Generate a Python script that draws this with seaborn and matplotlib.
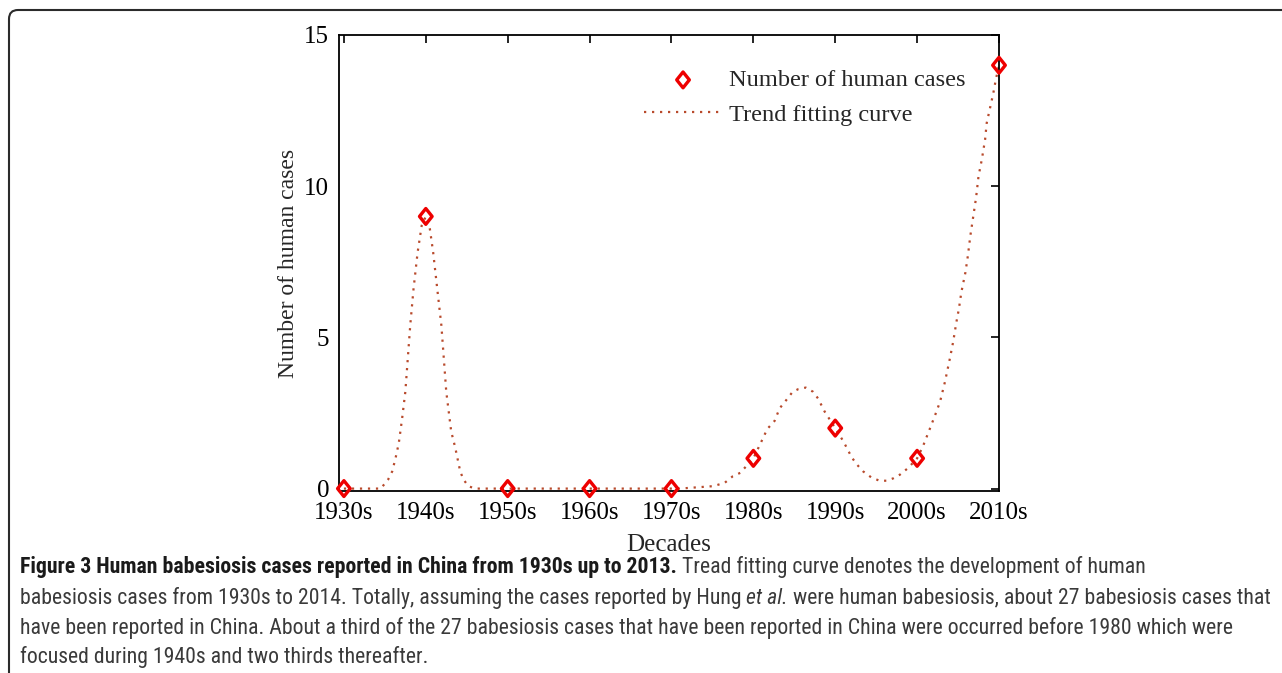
import numpy as np
import pandas as pd
import seaborn as sns
import matplotlib.pyplot as plt
from matplotlib.path import Path
from matplotlib.patches import FancyBboxPatch
from matplotlib.transforms import IdentityTransform
from matplotlib import font_manager

# data
decades = ['1930s', '1940s', '1950s', '1960s', '1970s', '1980s', '1990s', '2000s', '2010s']
cases = [0, 9, 0, 0, 0, 1, 2, 1, 14]

# trend fitting curve, x in decade steps from the 1930s
trend_x = [0.0, 0.45, 0.54, 0.59, 0.63, 0.67, 0.71, 0.75, 0.81, 0.85, 0.90, 0.95, 1.00,
           1.05, 1.09, 1.14, 1.19, 1.25, 1.31, 1.36, 1.42, 1.46, 1.52, 1.60,
           4.10, 4.51, 4.65, 4.75, 4.84, 5.00, 5.08, 5.17, 5.26, 5.32, 5.40, 5.48,
           5.55, 5.64, 5.73, 5.79, 5.87, 6.00, 6.10, 6.20, 6.26, 6.34, 6.44, 6.54,
           6.63, 6.71, 6.79, 6.89, 7.00, 7.07, 7.15, 7.22, 7.28, 7.34, 7.40, 7.44,
           7.48, 7.51, 7.54, 7.59, 7.62, 7.65, 7.68, 7.72, 7.75, 7.79, 7.83, 7.85,
           7.89, 7.93, 7.96, 8.00]
trend_y = [0, 0, 0.30, 0.57, 1.0, 1.5, 2.3, 3.2, 5.4, 6.6, 7.81, 8.7, 9.0,
           8.58, 7.81, 6.6, 5.4, 3.2, 1.89, 1.35, 0.57, 0.30, 0.08, 0,
           0, 0.08, 0.19, 0.41, 0.52, 1.0, 1.45, 1.97, 2.24, 2.65, 2.92, 3.20,
           3.29, 3.34, 3.20, 2.98, 2.55, 2.0, 1.56, 1.04, 0.81, 0.57, 0.37, 0.26,
           0.26, 0.34, 0.46, 0.68, 1.0, 1.39, 1.94, 2.43, 2.87, 3.53, 4.30, 4.85,
           5.51, 5.94, 6.49, 7.15, 7.70, 8.36, 8.90, 9.62, 10.33, 10.88, 11.54, 12.09,
           12.58, 13.07, 13.51, 14.0]

points = pd.DataFrame({'x': np.arange(len(decades)), 'cases': cases})
trend = pd.DataFrame({'x': trend_x, 'y': trend_y})

sns.set_style('white')
plt.rcParams['font.family'] = ['Liberation Serif', 'DejaVu Serif']

fig = plt.figure(figsize=(12.82, 6.73), dpi=100)
ax = fig.add_axes([339 / 1282, 1 - 491 / 673, 660 / 1282, 456 / 673])

curve_col = '#b84a2c'
sns.lineplot(data=trend, x='x', y='y', ax=ax, color=curve_col, lw=1.6,
             linestyle=(0, (1, 2.6)), sort=False, label='Trend fitting curve')

# diamond marker a bit narrower than tall
diamond = Path([(0, 1), (0.8, 0), (0, -1), (-0.8, 0), (0, 1)],
               [Path.MOVETO, Path.LINETO, Path.LINETO, Path.LINETO, Path.CLOSEPOLY])
sns.scatterplot(data=points, x='x', y='cases', ax=ax, marker=diamond, s=130,
                facecolors='none', edgecolor='#ee0000', linewidths=2.4,
                clip_on=False, zorder=5, label='Number of human cases')

ax.set_xlim(-0.06, 8)
ax.set_ylim(-0.08, 15)
ax.set_xticks(range(len(decades)))
ax.set_xticklabels(decades)
ax.set_yticks([0, 5, 10, 15])
ax.tick_params(direction='in', length=6, width=1.2, top=True, right=True,
               labelsize=18, colors='black')
ax.tick_params(axis='x', labeltop=False, pad=8)
ax.tick_params(axis='y', pad=7)
for s in ax.spines.values():
    s.set_color('black')
    s.set_linewidth(1.3)
ax.set_xlabel('Decades', fontsize=18, labelpad=7)
ax.set_ylabel('Number of human cases', fontsize=17, labelpad=4)

h, l = ax.get_legend_handles_labels()
order = [l.index('Number of human cases'), l.index('Trend fitting curve')]
ax.legend([h[i] for i in order], [l[i] for i in order], loc='upper left',
          bbox_to_anchor=(0.462, 0.925), frameon=False, fontsize=17.6,
          handlelength=3.2, handletextpad=0.3, labelspacing=0.5,
          borderpad=0, borderaxespad=0)

# rounded frame, only top and left edges visible
frame = FancyBboxPatch((9, -40), 1340, 673 - 10 + 40, boxstyle='round,pad=0,rounding_size=9',
                       transform=IdentityTransform(), fill=False, edgecolor='#2b2b2b',
                       linewidth=1.5)
fig.add_artist(frame)

# caption font: a narrow sans if one is installed
cap_font = 'Roboto'
names = sorted({f.name for f in font_manager.fontManager.ttflist})
for want in ['Liberation Sans Narrow', 'Roboto Condensed', 'Open Sans Condensed',
             'Noto Sans Condensed', 'DejaVu Sans Condensed']:
    if want in names:
        cap_font = want
        break

caption = [
    [('Figure 3 Human babesiosis cases reported in China from 1930s up to 2013.', 'bold', 'normal'),
     (' Tread fitting curve denotes the development of human', 'normal', 'normal')],
    [('babesiosis cases from 1930s to 2014. Totally, assuming the cases reported by Hung ', 'normal', 'normal'),
     ('et al.', 'normal', 'italic'),
     (' were human babesiosis, about 27 babesiosis cases that', 'normal', 'normal')],
    [('have been reported in China. About a third of the 27 babesiosis cases that have been reported in China were occurred before 1980 which were', 'normal', 'normal')],
    [('focused during 1940s and two thirds thereafter.', 'normal', 'normal')],
]
line_y = [567, 598, 628, 657]
line_end = [1232, 1264, 1262, 508]

renderer = fig.canvas.get_renderer()
scales = []
for parts, end in zip(caption, line_end):
    w = 0
    for txt, wt, st in parts:
        t = fig.text(0, 0, txt, fontsize=10, family=cap_font, weight=wt, style=st)
        w += t.get_window_extent(renderer).width
        t.remove()
    scales.append((end - 20) / w)
cap_size = 10 * min(scales)

for parts, y in zip(caption, line_y):
    x = 20
    for txt, wt, st in parts:
        t = fig.text(x / 1282, 1 - y / 673, txt, fontsize=cap_size, family=cap_font,
                     weight=wt, style=st, va='center', ha='left',
                     color='#1a1a1a' if wt == 'bold' else '#3a3a3a')
        x += t.get_window_extent(renderer).width

fig.savefig('out.png', dpi=100)
